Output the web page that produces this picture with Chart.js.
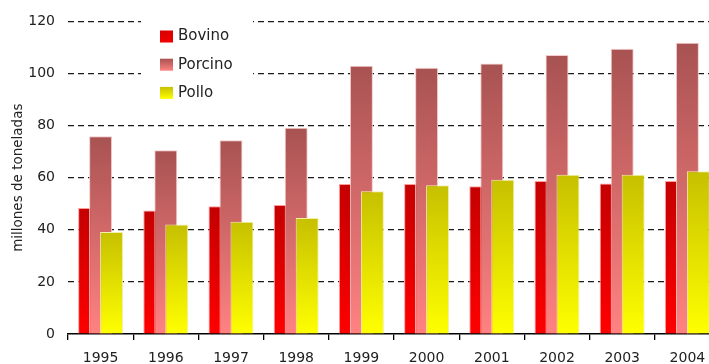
<!DOCTYPE html>
<html>
<head>
<meta charset="utf-8">
<script src="https://cdn.jsdelivr.net/npm/chart.js@4/dist/chart.umd.min.js"></script>
<style>
  html, body { margin: 0; padding: 0; background: #fff; overflow: hidden; }
  #wrap { width: 720px; height: 372px; }
</style>
</head>
<body>
<div id="wrap"><canvas id="c" width="720" height="372"></canvas></div>
<script>
// Producción anual (millones de toneladas)
const years = ['1995', '1996', '1997', '1998', '1999', '2000', '2001', '2002', '2003', '2004'];
const bovino = [48.4, 47.4, 49.0, 49.5, 57.6, 57.6, 56.7, 58.7, 57.8, 58.7];
const porcino = [75.9, 70.5, 74.4, 79.2, 103.0, 102.2, 103.8, 107.1, 109.5, 111.8];
const pollo = [39.2, 42.0, 43.1, 44.5, 54.8, 57.1, 59.2, 61.1, 61.1, 62.5];
const yTicks = [0, 20, 40, 60, 80, 100, 120];

const FONT = 'DejaVu Sans';

// vertical gradient for each bar, from its top down to the baseline
function barGradient(top, bottom) {
  return (ctx) => {
    const chart = ctx.chart;
    const y = chart.scales && chart.scales.y;
    if (!y || ctx.type !== 'data' || !chart.chartArea) return bottom;
    const y1 = y.getPixelForValue(ctx.raw);
    const y0 = y.getPixelForValue(0);
    const g = chart.ctx.createLinearGradient(0, y1, 0, y0);
    g.addColorStop(0, top);
    g.addColorStop(1, bottom);
    return g;
  };
}

const series = [
  { label: 'Bovino', data: bovino, top: '#c40000', bottom: '#ff0000', edge: '#ff9c9c' },
  { label: 'Porcino', data: porcino, top: '#a85252', bottom: '#ff8282', edge: '#f6caca' },
  { label: 'Pollo', data: pollo, top: '#c6c000', bottom: '#ffff00', edge: '#f2f0a8' }
];

// later series are painted over earlier ones (Porcino over Bovino, Pollo over Porcino)
const paintOrder = {
  id: 'paintOrder',
  beforeDatasetsDraw(chart) {
    for (let i = 0; i < chart.data.datasets.length; i++) {
      const meta = chart.getDatasetMeta(i);
      if (!meta.hidden) meta.controller.draw();
    }
    return false;
  }
};

// boxed legend in the upper left of the plot
const boxLegend = {
  id: 'boxLegend',
  afterDraw(chart) {
    const ctx = chart.ctx;
    ctx.save();
    ctx.fillStyle = '#ffffff';
    ctx.fillRect(141, 12, 112, 102);
    series.forEach((s, i) => {
      const cy = 36.5 + i * 28.2;
      const g = ctx.createLinearGradient(0, cy - 6, 0, cy + 6);
      g.addColorStop(0, s.label === 'Bovino' ? '#d80000' : s.top);
      g.addColorStop(1, s.label === 'Bovino' ? '#f00000' : s.bottom);
      ctx.fillStyle = g;
      ctx.fillRect(160, cy - 6, 13, 12);
      ctx.fillStyle = '#222';
      ctx.font = '15px "' + FONT + '"';
      ctx.textBaseline = 'middle';
      ctx.textAlign = 'left';
      ctx.fillText(s.label, 178, cy);
    });
    ctx.restore();
  }
};

new Chart(document.getElementById('c'), {
  type: 'bar',
  data: {
    labels: years,
    datasets: series.map(s => ({
      label: s.label,
      data: s.data,
      backgroundColor: barGradient(s.top, s.bottom),
      borderColor: s.edge,
      borderWidth: { top: 1, left: 1, right: 1, bottom: 0 },
      borderSkipped: 'bottom',
      categoryPercentage: 0.506,
      barPercentage: 2.09
    }))
  },
  options: {
    responsive: false,
    animation: false,
    devicePixelRatio: 1,
    layout: { padding: { top: 21, right: 0, left: 0, bottom: 0 } },
    plugins: {
      legend: { display: false },
      tooltip: { enabled: false }
    },
    scales: {
      x: {
        grid: {
          offset: true,
          drawOnChartArea: false,
          drawTicks: true,
          tickLength: 6,
          color: '#000',
          lineWidth: 1.3
        },
        border: { display: true, color: '#000', width: 1.5 },
        ticks: {
          color: '#222',
          font: { family: FONT, size: 14 },
          padding: 10,
          maxRotation: 0
        },
        afterFit(scale) { scale.height = 38; }
      },
      y: {
        min: 0,
        max: 120,
        afterBuildTicks(scale) { scale.ticks = yTicks.map(v => ({ value: v })); },
        grid: {
          drawTicks: false,
          color: (c) => c.tick && c.tick.value === 0 ? 'rgba(0,0,0,0)' : '#1a1a1a',
          lineWidth: 1.2
        },
        border: { display: false, dash: [6, 4] },
        ticks: {
          color: '#222',
          font: { family: FONT, size: 14 },
          padding: 13
        },
        title: {
          display: true,
          text: 'millones de toneladas',
          color: '#222',
          font: { family: FONT, size: 13.5 },
          padding: { top: 10, bottom: 4 }
        },
        afterFit(scale) { scale.width = 68; }
      }
    }
  },
  plugins: [boxLegend, paintOrder]
});
</script>
</body>
</html>
